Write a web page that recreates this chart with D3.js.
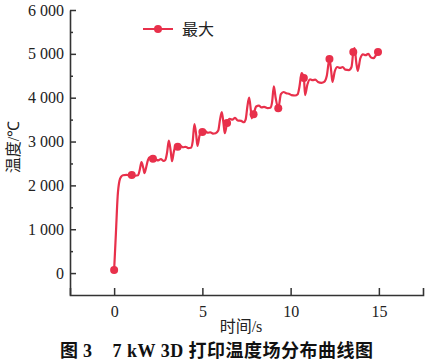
<!DOCTYPE html>
<html>
<head>
<meta charset="utf-8">
<script src="https://cdn.jsdelivr.net/npm/d3@7"></script>
<style>
    body { margin: 0; background: #fff; }
    svg { display: block; }
</style>
</head>
<body>
<div id="chart"></div>
<script>
    // time (s) and max temperature (°C)
    const times = [0, 0.1, 0.2, 0.3, 0.4, 0.5, 0.7, 0.9, 1.0, 1.2, 1.35, 1.45, 1.55, 1.65, 1.72, 1.82, 1.92, 2.0, 2.1, 2.2,
        2.35, 2.5, 2.65, 2.8, 2.9, 3.0, 3.1, 3.2, 3.28, 3.38, 3.48, 3.6, 3.75, 3.9, 4.05, 4.2, 4.35, 4.45, 4.55, 4.65,
        4.72, 4.85, 5.0, 5.15, 5.3, 5.45, 5.6, 5.75, 5.9, 6.0, 6.1, 6.2, 6.27, 6.4, 6.55, 6.7, 6.85, 7.0, 7.2, 7.35,
        7.45, 7.55, 7.65, 7.75, 7.8, 7.9, 8.05, 8.2, 8.35, 8.5, 8.7, 8.85, 8.95, 9.05, 9.15, 9.3, 9.45, 9.6, 9.75, 9.9,
        10.05, 10.25, 10.4, 10.5, 10.62, 10.75, 10.82, 10.95, 11.1, 11.25, 11.4, 11.55, 11.75, 11.9, 12.05, 12.2, 12.3, 12.37, 12.5, 12.65,
        12.8, 12.95, 13.1, 13.3, 13.45, 13.55, 13.62, 13.72, 13.8, 13.95, 14.1, 14.25, 14.4, 14.55, 14.7, 14.8, 14.95];
    const maxTemp = [70, 900, 1750, 2100, 2200, 2230, 2240, 2230, 2235, 2220, 2230, 2350, 2530, 2400, 2280, 2420, 2580, 2640, 2620, 2610,
        2590, 2570, 2600, 2560, 2580, 2750, 3020, 2800, 2550, 2760, 2900, 2880, 2900, 2870, 2880, 2850, 2860, 3000, 3400, 3150,
        2900, 3150, 3220, 3240, 3200, 3210, 3180, 3190, 3250, 3500, 3670, 3400, 3190, 3420, 3520, 3500, 3540, 3480, 3470, 3440,
        3500, 3800, 4000, 3700, 3530, 3620, 3800, 3820, 3780, 3790, 3760, 3770, 3900, 4260, 4000, 3760, 4080, 4130, 4100, 4090,
        4060, 4050, 4080, 4250, 4560, 4450, 4060, 4300, 4420, 4400, 4410, 4360, 4340, 4360, 4500, 4880, 4600, 4360, 4600, 4700,
        4680, 4700, 4640, 4630, 4700, 5040, 5130, 4800, 4610, 4900, 4990, 4970, 5000, 4920, 4900, 4950, 5040];
    const markerTimes = [0, 1.0, 2.2, 3.6, 5.0, 6.4, 7.9, 9.3, 10.75, 12.2, 13.55, 14.95];
    const xTicks = [0, 5, 10, 15];
    const yTicks = [0, 1000, 2000, 3000, 4000, 5000, 6000];
    const yMinorTicks = [500, 1500, 2500, 3500, 4500, 5500];
    const seriesName = "最大";

    const width = 428, height = 364;
    const lineColor = "#e8304b";
    const axisColor = "#333";
    const serif = "'Liberation Serif', 'Times New Roman', serif";
    const cjk = "'Noto Sans CJK SC', sans-serif";

    const points = times.map((t, i) => ({ t: t, v: maxTemp[i] }));
    const markers = points.filter(p => markerTimes.includes(p.t));

    const svg = d3.select("#chart").append("svg")
        .attr("width", width)
        .attr("height", height);

    const x = d3.scaleLinear().domain([-2.5, 17.5]).range([70, 423]);
    const y = d3.scaleLinear().domain([-500, 6000]).range([295, 10]);

    // minor y ticks first, under the axis
    svg.append("g")
        .attr("transform", "translate(70,0)")
        .call(d3.axisLeft(y).tickValues(yMinorTicks).tickSize(-3).tickSizeOuter(0).tickFormat(""))
        .call(g => g.select(".domain").remove())
        .call(g => g.selectAll("line").attr("stroke", axisColor).attr("stroke-width", 1.5));

    const yAxis = svg.append("g")
        .attr("transform", "translate(70,0)")
        .call(d3.axisLeft(y)
            .tickValues(yTicks)
            .tickSize(-6)
            .tickSizeOuter(0)
            .tickPadding(6)
            .tickFormat(d => d3.format(",")(d).replace(",", " ")));

    const xAxis = svg.append("g")
        .attr("transform", "translate(0,295)")
        .call(d3.axisBottom(x)
            .tickValues(xTicks)
            .tickSize(-7)
            .tickSizeOuter(-7)
            .tickPadding(11));

    [yAxis, xAxis].forEach(g => {
        g.select(".domain").attr("stroke", axisColor).attr("stroke-width", 1.6);
        g.selectAll(".tick line").attr("stroke", axisColor).attr("stroke-width", 1.5);
        g.selectAll("text")
            .attr("fill", "#222")
            .style("font-family", serif)
            .style("font-size", "16px");
    });

    // the curve
    const line = d3.line()
        .x(d => x(d.t))
        .y(d => y(d.v))
        .curve(d3.curveMonotoneX);

    svg.append("path")
        .datum(points)
        .attr("fill", "none")
        .attr("stroke", lineColor)
        .attr("stroke-width", 2.2)
        .attr("stroke-linejoin", "round")
        .attr("d", line);

    svg.selectAll(".marker")
        .data(markers)
        .enter().append("circle")
        .attr("class", "marker")
        .attr("cx", d => x(d.t))
        .attr("cy", d => y(d.v))
        .attr("r", 4)
        .attr("fill", lineColor);

    // legend
    const legend = svg.append("g").attr("transform", "translate(143,29)");
    legend.append("line")
        .attr("x1", 0).attr("x2", 30)
        .attr("stroke", lineColor)
        .attr("stroke-width", 2);
    legend.append("circle")
        .attr("cx", 15)
        .attr("r", 4)
        .attr("fill", lineColor);
    legend.append("text")
        .attr("x", 39)
        .attr("y", 6)
        .attr("fill", "#222")
        .style("font-family", cjk)
        .style("font-size", "16px")
        .text(seriesName);

    // axis titles
    svg.append("text")
        .attr("transform", "translate(19,147) rotate(-90)")
        .attr("text-anchor", "middle")
        .attr("fill", "#222")
        .style("font-size", "16px")
        .call(t => {
            t.append("tspan").style("font-family", cjk).text("温度");
            t.append("tspan").style("font-family", serif).text("/℃");
        });

    svg.append("text")
        .attr("x", 241)
        .attr("y", 332)
        .attr("text-anchor", "middle")
        .attr("fill", "#222")
        .style("font-size", "16px")
        .call(t => {
            t.append("tspan").style("font-family", cjk).text("时间");
            t.append("tspan").style("font-family", serif).text("/s");
        });

    // caption
    svg.append("text")
        .attr("x", 60)
        .attr("y", 357)
        .attr("fill", "#111")
        .attr("textLength", 313)
        .attr("lengthAdjust", "spacing")
        .style("font-size", "18px")
        .style("font-weight", "bold")
        .call(t => {
            t.append("tspan").style("font-family", cjk).text("图 ");
            t.append("tspan").style("font-family", serif).attr("xml:space", "preserve").text("3    7 kW 3D ");
            t.append("tspan").style("font-family", cjk).text("打印温度场分布曲线图");
        });
</script>
</body>
</html>
